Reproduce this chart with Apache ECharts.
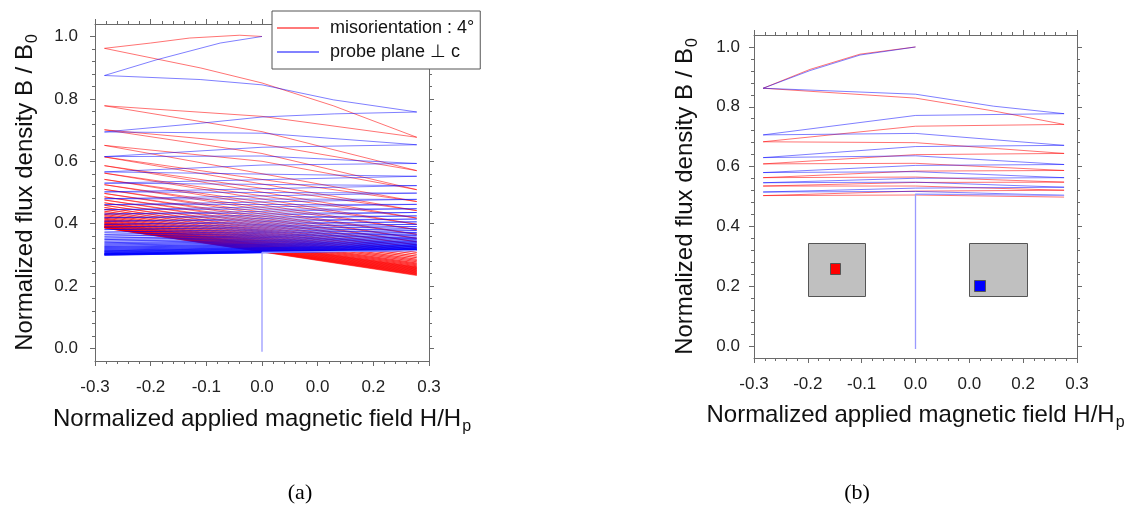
<!DOCTYPE html>
<html><head><meta charset="utf-8">
<script src="https://cdn.jsdelivr.net/npm/echarts@6/dist/echarts.min.js"></script>
<style>html,body{margin:0;padding:0;background:#fff}#c{width:1134px;height:514px}</style>
</head><body><div id="c"></div><script>
// ---------- tick labels ----------
const xTickValues = [-0.3, -0.2, -0.1, 0, 0.1, 0.2, 0.3];
const xTickLabels = ['-0.3', '-0.2', '-0.1', '0.0', '0.0', '0.2', '0.3'];
const xMinorTicks = [-0.28,-0.26,-0.24,-0.22,-0.18,-0.16,-0.14,-0.12,-0.08,-0.06,-0.04,-0.02,0.02,0.04,0.06,0.08,0.12,0.14,0.16,0.18,0.22,0.24,0.26,0.28];
const yTickValues = [0, 0.2, 0.4, 0.6, 0.8, 1.0];
const yTickLabels = ['0.0', '0.2', '0.4', '0.6', '0.8', '1.0'];
const yMinorTicks = [0.04,0.08,0.12,0.16,0.24,0.28,0.32,0.36,0.44,0.48,0.52,0.56,0.64,0.68,0.72,0.76,0.84,0.88,0.92,0.96];

const RED_NAME = 'misorientation : 4°';
const BLUE_NAME = 'probe plane ⊥ c';

// ---------- panel (a) ----------
const fieldA = [-0.283, 0.278];              // H at the left / right turning points
const redA_start = [[0, 1.0], [-0.04, 1.004], [-0.13, 0.995], [-0.2, 0.979]];
const redA_left = [0.962, 0.778, 0.701, 0.651, 0.614, 0.586, 0.562, 0.542, 0.525, 0.510, 0.497, 0.486, 0.476, 0.467, 0.459, 0.452, 0.446, 0.440, 0.435, 0.430, 0.426, 0.422, 0.418, 0.415, 0.412, 0.409, 0.406, 0.404, 0.402, 0.400, 0.398, 0.396, 0.394, 0.393, 0.391, 0.390, 0.389, 0.388, 0.387, 0.386];
const redA_right = [0.677, 0.570, 0.509, 0.471, 0.442, 0.418, 0.398, 0.381, 0.366, 0.353, 0.342, 0.332, 0.323, 0.315, 0.308, 0.302, 0.296, 0.291, 0.286, 0.282, 0.278, 0.274, 0.271, 0.268, 0.265, 0.262, 0.260, 0.258, 0.256, 0.254, 0.252, 0.250, 0.248, 0.246, 0.244, 0.242, 0.240, 0.238, 0.236, 0.234];
// intermediate points read on the first branches
const redA_bends = [[[-0.11, 0.899], [0, 0.851], [0.128, 0.778]], [[0, 0.744]], [[0, 0.695]], [[0, 0.655]], [[0, 0.625]], [[0, 0.600]]];

const blueA_start = [[0, 1.0], [-0.075, 0.979], [-0.19, 0.925]];
const blueA_left = [0.875, 0.694, 0.615, 0.566, 0.530, 0.502, 0.480, 0.461, 0.445, 0.431, 0.419, 0.408, 0.398, 0.389, 0.381, 0.373, 0.366, 0.360, 0.354, 0.349, 0.344, 0.339, 0.335, 0.331, 0.327, 0.324, 0.321, 0.318, 0.315, 0.313, 0.311, 0.309, 0.307, 0.305, 0.304, 0.303, 0.302, 0.301, 0.300, 0.299];
const blueA_right = [0.758, 0.653, 0.593, 0.552, 0.522, 0.498, 0.478, 0.462, 0.448, 0.436, 0.425, 0.415, 0.406, 0.398, 0.391, 0.384, 0.378, 0.372, 0.367, 0.362, 0.357, 0.353, 0.349, 0.345, 0.342, 0.339, 0.336, 0.333, 0.331, 0.329, 0.327, 0.325, 0.323, 0.321, 0.320, 0.318, 0.317, 0.316, 0.315, 0.314];
const blueA_bends = [[[-0.111, 0.862], [0, 0.845], [0.128, 0.797]], [[0.13, 0.752], [0, 0.742], [-0.11, 0.722]], [[0, 0.690]], [[0, 0.645]], [[0, 0.617]], [[0, 0.588]]];
const blueA_tail = [[0.278, 0.314], [0, 0.308], [0, -0.01]];

// ---------- panel (b) ----------
const fieldB = [-0.283, 0.276];
const redB_start = [[0, 1.0], [-0.103, 0.976], [-0.196, 0.925]];
const redB_left = [0.862, 0.683, 0.609, 0.563, 0.535, 0.503];
const redB_right = [0.741, 0.644, 0.587, 0.548, 0.521, 0.498];
const redB_bends = [[[0, 0.829], [0.145, 0.786]], [[0, 0.735]], [[0, 0.680]], [[0, 0.640]], [[0, 0.611]], [[0, 0.585]], [[0, 0.565]], [[0, 0.547]], [[0, 0.535]], [[0, 0.518]], [[0, 0.505]]];

const blueB_start = [[0, 1.0], [-0.103, 0.973], [-0.196, 0.921]];
const blueB_left = [0.862, 0.706, 0.630, 0.580, 0.546, 0.515];
const blueB_right = [0.777, 0.671, 0.607, 0.563, 0.531, 0.504];
const blueB_bends = [[[0, 0.842], [0.145, 0.802]], [[0, 0.771]], [[0, 0.711]], [[0, 0.667]], [[0, 0.636]], [[0, 0.604]], [[0, 0.583]], [[0, 0.561]], [[0, 0.548]], [[0, 0.528]], [[0, 0.517]]];
const blueB_tail = [[0.276, 0.504], [0, 0.508], [0, -0.01]];

// inset boxes of panel (b): [H0, B0, H1, B1]
const insetBoxes = [[-0.200, 0.343, -0.094, 0.167], [0.100, 0.343, 0.207, 0.167]];
const insetMarkers = [[-0.158, 0.276, -0.139, 0.240], [0.108, 0.220, 0.128, 0.184]];
const insetMarkerColors = ['#ff0000', '#0000ff'];

// ---------- build ----------
function buildPath(start, left, right, bends, field) {
  const pts = start.slice();
  pts.push([field[0], left[0]]);
  let b = 0;
  const addBend = () => { (bends[b] || []).forEach(p => pts.push(p)); b++; };
  for (let i = 0; i < right.length; i++) {
    addBend();
    pts.push([field[1], right[i]]);
    if (i + 1 < left.length) {
      addBend();
      pts.push([field[0], left[i + 1]]);
    }
  }
  return pts;
}

const FONT = "'Liberation Sans', Arial, sans-serif";
const AX = '#6a6a6a';
const rich = {
  t: {fontSize: 24, fontFamily: FONT, color: '#111', lineHeight: 26, verticalAlign: 'top'},
  s: {fontSize: 16, fontFamily: FONT, color: '#111', lineHeight: 26, verticalAlign: 'top', padding: [12, 0, 0, 1]}
};

function xAxes(gi, nameGap) {
  const base = {type: 'value', gridIndex: gi, min: -0.3, max: 0.3, splitLine: {show: false}, axisLine: {show: true, onZero: false, lineStyle: {color: AX, width: 1}}};
  return [
    Object.assign({}, base, {position: 'bottom', name: '{t|Normalized applied magnetic field H/H}{s|p}', nameLocation: 'middle', nameGap: nameGap, nameTextStyle: {rich: rich},
      axisTick: {show: true, customValues: xTickValues, length: 5, lineStyle: {color: AX}},
      axisLabel: {show: true, customValues: xTickValues, margin: 18, fontSize: 17, color: '#222', fontFamily: FONT,
        formatter: v => xTickLabels[xTickValues.findIndex(t => Math.abs(t - v) < 1e-6)]}}),
    Object.assign({}, base, {position: 'bottom', axisLine: {show: false, onZero: false}, axisTick: {show: true, customValues: xMinorTicks, length: 3, lineStyle: {color: AX}}, axisLabel: {show: false}}),
    Object.assign({}, base, {position: 'top', axisTick: {show: true, customValues: xTickValues, length: 5, lineStyle: {color: AX}}, axisLabel: {show: false}}),
    Object.assign({}, base, {position: 'top', axisLine: {show: false, onZero: false}, axisTick: {show: true, customValues: xMinorTicks, length: 3, lineStyle: {color: AX}}, axisLabel: {show: false}})
  ];
}
function yAxes(gi, nameGap, margin) {
  const base = {type: 'value', gridIndex: gi, min: -0.04, max: 1.04, splitLine: {show: false}, axisLine: {show: true, onZero: false, lineStyle: {color: AX, width: 1}}};
  return [
    Object.assign({}, base, {position: 'left', name: '{t|Normalized flux density B / B}{s|0}', nameLocation: 'middle', nameGap: nameGap, nameTextStyle: {rich: rich},
      axisTick: {show: true, customValues: yTickValues, length: 5, lineStyle: {color: AX}},
      axisLabel: {show: true, customValues: yTickValues, margin: margin, fontSize: 17, color: '#222', fontFamily: FONT,
        formatter: v => yTickLabels[yTickValues.findIndex(t => Math.abs(t - v) < 1e-6)]}}),
    Object.assign({}, base, {position: 'left', axisLine: {show: false, onZero: false}, axisTick: {show: true, customValues: yMinorTicks, length: 3, lineStyle: {color: AX}}, axisLabel: {show: false}}),
    Object.assign({}, base, {position: 'right', axisTick: {show: true, customValues: yTickValues, length: 5, lineStyle: {color: AX}}, axisLabel: {show: false}}),
    Object.assign({}, base, {position: 'right', axisLine: {show: false, onZero: false}, axisTick: {show: true, customValues: yMinorTicks, length: 3, lineStyle: {color: AX}}, axisLabel: {show: false}})
  ];
}

const RED = 'rgba(255,0,0,0.55)';
const BLUE = 'rgba(0,0,255,0.5)';
const BLUE_TAIL = '#9a9aff';
function lineSeries(name, data, color, xi, yi, z, width) {
  return {type: 'line', name: name, xAxisIndex: xi, yAxisIndex: yi, data: data, showSymbol: false, symbol: 'none',
    lineStyle: {color: color, width: width || 1}, itemStyle: {color: color}, animation: false, z: z, emphasis: {disabled: true}};
}
function rectSeries(data, fillFn, stroke, z) {
  return {type: 'custom', xAxisIndex: 4, yAxisIndex: 4, data: data, z: z, animation: false, silent: true,
    renderItem: function (params, api) {
      const p0 = api.coord([api.value(0), api.value(1)]);
      const p1 = api.coord([api.value(2), api.value(3)]);
      return {type: 'rect', shape: {x: Math.round(p0[0]) + 0.5, y: Math.round(p0[1]) + 0.5, width: Math.round(p1[0] - p0[0]), height: Math.round(p1[1] - p0[1])},
        style: {fill: fillFn(params.dataIndex), stroke: stroke, lineWidth: 1}};
    }};
}

const chart = echarts.init(document.getElementById('c'), null, {renderer: 'canvas'});
chart.setOption({
  backgroundColor: '#fff',
  animation: false,
  grid: [
    {left: 95, top: 24, width: 334, height: 337},
    {left: 754, top: 35, width: 323, height: 323}
  ],
  xAxis: xAxes(0, 46).concat(xAxes(1, 45)),
  yAxis: yAxes(0, 56, 17).concat(yAxes(1, 55, 14)),
  legend: {
    data: [{name: RED_NAME, itemStyle: {color: '#ff7a7a'}}, {name: BLUE_NAME, itemStyle: {color: '#8282ff'}}],
    orient: 'vertical', left: 272, top: 11, icon: 'rect', itemWidth: 42, itemHeight: 2, itemGap: 6,
    padding: [8, 6, 8, 5], backgroundColor: '#fff', borderColor: '#555', borderWidth: 1, borderRadius: 0,
    textStyle: {fontSize: 18, fontFamily: FONT, color: '#111', lineHeight: 18, padding: [0, 0, 0, 6]},
    selectedMode: false, z: 10
  },
  graphic: [
    {type: 'text', x: 300, y: 493, style: {text: '(a)', fontSize: 22, fontFamily: "'Liberation Serif', 'Times New Roman', serif", fill: '#000', align: 'center', verticalAlign: 'middle'}},
    {type: 'text', x: 857, y: 493, style: {text: '(b)', fontSize: 22, fontFamily: "'Liberation Serif', 'Times New Roman', serif", fill: '#000', align: 'center', verticalAlign: 'middle'}}
  ],
  series: [
    lineSeries(RED_NAME, buildPath(redA_start, redA_left, redA_right, redA_bends, fieldA), RED, 0, 0, 2),
    lineSeries(BLUE_NAME, buildPath(blueA_start, blueA_left, blueA_right, blueA_bends, fieldA), BLUE, 0, 0, 3),
    lineSeries(BLUE_NAME, blueA_tail, BLUE_TAIL, 0, 0, 3, 1.3),
    lineSeries(RED_NAME, buildPath(redB_start, redB_left, redB_right, redB_bends, fieldB), RED, 4, 4, 2),
    lineSeries(BLUE_NAME, buildPath(blueB_start, blueB_left, blueB_right, blueB_bends, fieldB), BLUE, 4, 4, 3),
    lineSeries(BLUE_NAME, blueB_tail, BLUE_TAIL, 4, 4, 3, 1.3),
    rectSeries(insetBoxes, () => '#c0c0c0', '#555', 4),
    rectSeries(insetMarkers, i => insetMarkerColors[i], '#555', 5)
  ]
});
</script></body></html>
